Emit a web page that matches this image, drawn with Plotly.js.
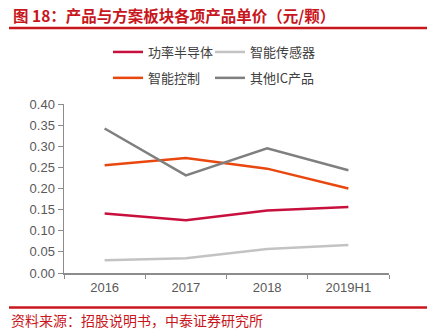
<!DOCTYPE html>
<html><head><meta charset="utf-8">
<script src="https://cdn.plot.ly/plotly-3.0.1.min.js"></script>
<style>html,body{margin:0;padding:0;background:#fff;}#chart{width:436px;height:332px;}</style>
</head><body><div id="chart"></div>
<script>
const categories = ['2016', '2017', '2018', '2019H1'];
const powerSemi = [0.141, 0.125, 0.148, 0.156];
const smartSensor = [0.030, 0.035, 0.057, 0.066];
const smartControl = [0.255, 0.272, 0.247, 0.200];
const otherIC = [0.342, 0.231, 0.295, 0.243];
const yTicks = [0, 0.05, 0.10, 0.15, 0.20, 0.25, 0.30, 0.35, 0.40];
const yTickLabels = ['0.00','0.05','0.10','0.15','0.20','0.25','0.30','0.35','0.40'];

const red = '#C8161D';
const font = '"Noto Sans CJK SC", "Liberation Sans", Arial, sans-serif';
const mk = (name, y, color, legend, group) => ({
  type: 'scatter', mode: 'lines', name, x: categories, y,
  line: {color, width: 2.5}, legend, legendgroup: group, hoverinfo: 'skip'
});
const traces = [
  mk('功率半导体', powerSemi, '#C8103E', 'legend', 'a'),
  mk('智能传感器', smartSensor, '#C3C3C3', 'legend2', 'b'),
  mk('智能控制', smartControl, '#E8480F', 'legend', 'c'),
  mk('其他IC产品', otherIC, '#7F7F7F', 'legend2', 'd')
];
const pxX = p => (p - 64) / 325;
const pxY = p => (273 - p) / 169;
const legFont = {family: font, size: 13, color: '#404040'};
const layout = {
  width: 436, height: 332,
  margin: {l: 64, r: 47, t: 104, b: 59},
  paper_bgcolor: '#fff', plot_bgcolor: '#fff',
  showlegend: true,
  legend: {x: pxX(108), y: pxY(37), xanchor: 'left', yanchor: 'top', orientation: 'v',
    font: legFont, tracegroupgap: 6, bgcolor: 'rgba(0,0,0,0)'},
  legend2: {x: pxX(210), y: pxY(37), xanchor: 'left', yanchor: 'top', orientation: 'v',
    font: legFont, tracegroupgap: 6, bgcolor: 'rgba(0,0,0,0)'},
  xaxis: {
    type: 'category', range: [-0.5, 3.5], tickson: 'boundaries',
    ticks: 'outside', ticklen: 4, tickcolor: '#8C8C8C', tickwidth: 1,
    showline: true, linecolor: '#8C8C8C', linewidth: 1.5, ticklabelstandoff: 2,
    showgrid: false, zeroline: false,
    tickfont: {family: '"Liberation Sans", Arial, sans-serif', size: 13, color: '#595959'}
  },
  yaxis: {
    range: [0, 0.4], tickvals: yTicks, ticktext: yTickLabels,
    ticks: 'outside', ticklen: 5, tickcolor: '#8C8C8C', tickwidth: 1,
    showline: true, linecolor: '#8C8C8C', linewidth: 1.5,
    showgrid: false, zeroline: false,
    tickfont: {family: '"Liberation Sans", Arial, sans-serif', size: 13, color: '#595959'}
  },
  shapes: [
    {type: 'line', xref: 'paper', yref: 'paper', x0: pxX(9), x1: pxX(427), y0: pxY(28), y1: pxY(28),
      line: {color: red, width: 2.5}},
    {type: 'line', xref: 'paper', yref: 'paper', x0: pxX(9), x1: pxX(427), y0: pxY(307.5), y1: pxY(307.5),
      line: {color: red, width: 2.5}}
  ],
  annotations: [
    {xref: 'paper', yref: 'paper', x: pxX(11), y: pxY(15), xanchor: 'left', yanchor: 'middle',
      text: '<b>图 18：产品与方案板块各项产品单价（元/颗）</b>', showarrow: false,
      font: {family: font, size: 15.5, color: red}},
    {xref: 'paper', yref: 'paper', x: pxX(9), y: pxY(320), xanchor: 'left', yanchor: 'middle',
      text: '资料来源：招股说明书，中泰证券研究所', showarrow: false,
      font: {family: font, size: 14, color: red}}
  ]
};
Plotly.newPlot('chart', traces, layout, {displayModeBar: false, staticPlot: true});
</script></body></html>
